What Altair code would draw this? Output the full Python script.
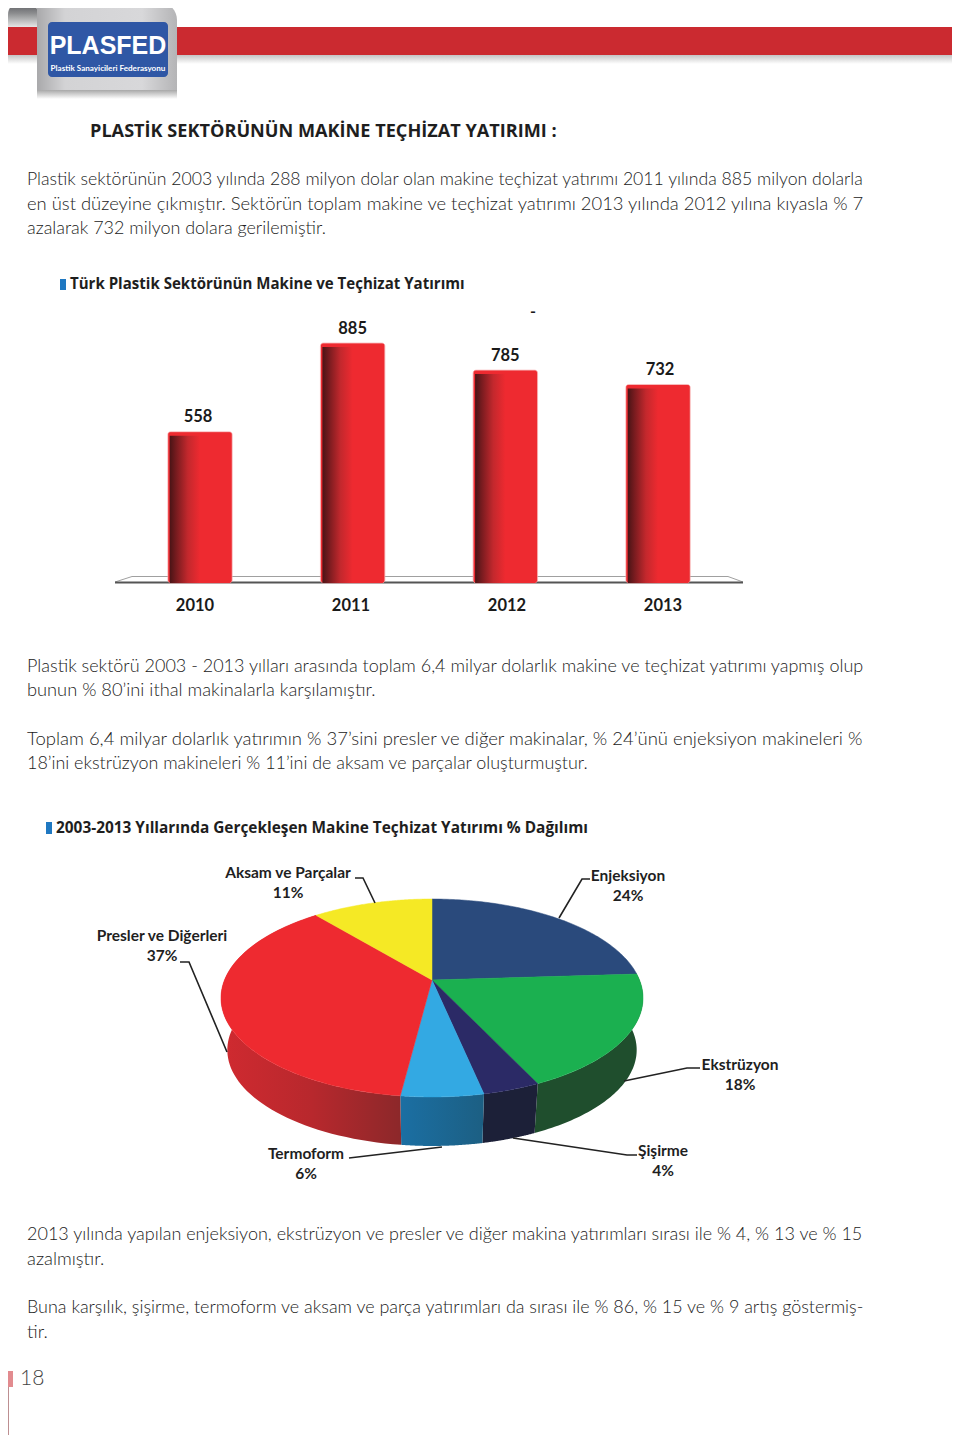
import numpy as np
import pandas as pd
import altair as alt

# ---------- values ----------
YEARS = ["2010", "2011", "2012", "2013"]
INVEST = [558, 885, 785, 732]
SLICES = ["Enjeksiyon", "Ekstrüzyon", "Şişirme", "Termoform", "Presler ve Diğerleri", "Aksam ve Parçalar"]
SHARES = [24, 18, 4, 6, 37, 11]          # printed percentages
DRAWN = [24, 19, 3.7, 5.3, 37, 11]       # slice sizes

BODY = [
    "Plastik sektörünün 2003 yılında 288 milyon dolar olan makine teçhizat yatırımı 2011 yılında 885 milyon dolarla",
    "en üst düzeyine çıkmıştır. Sektörün toplam makine ve teçhizat yatırımı 2013 yılında 2012 yılına kıyasla % 7",
    "azalarak 732 milyon dolara gerilemiştir.",
    "Plastik sektörü 2003 - 2013 yılları arasında toplam 6,4 milyar dolarlık makine ve teçhizat yatırımı yapmış olup",
    "bunun % 80’ini ithal makinalarla karşılamıştır.",
    "Toplam 6,4 milyar dolarlık yatırımın % 37’sini presler ve diğer makinalar, % 24’ünü enjeksiyon makineleri %",
    "18’ini ekstrüzyon makineleri % 11’ini de aksam ve parçalar oluşturmuştur.",
    "2013 yılında yapılan enjeksiyon, ekstrüzyon ve presler ve diğer makina yatırımları sırası ile % 4, % 13 ve % 15",
    "azalmıştır.",
    "Buna karşılık, şişirme, termoform ve aksam ve parça yatırımları da sırası ile % 86, % 15 ve % 9 artış göstermiş-",
    "tir.",
]
HEADINGS = [
    "PLASTİK SEKTÖRÜNÜN MAKİNE TEÇHİZAT YATIRIMI :",
    "Türk Plastik Sektörünün Makine ve Teçhizat Yatırımı",
    "2003-2013 Yıllarında Gerçekleşen Makine Teçhizat Yatırımı % Dağılımı",
]

# ---------- layout (page pixels) ----------
W, H = 944, 1427
BODY_Y = [180, 204, 229, 667, 691, 739, 764, 1235, 1259, 1308, 1332]
BODY_SIZE = [17.65, 18.41, 17.95, 18.0, 18.25, 18.5, 17.9, 18.0, 18.35, 17.94, 18.35]
HEAD_X = [90, 70, 56]
HEAD_Y = [132, 284, 828]
HEAD_SIZE = [18.14, 15.05, 15.4]
YEAR_X = [195, 351, 507, 663]
VALUE_DX = [-2, 0, 0, 2]
LABEL_X = [628, 740, 663, 306, 162, 288]
LABEL_Y = [876, 1065, 1151, 1154, 936, 873]

PX = alt.Scale(domain=[8, 8 + W], range=[0, W], nice=False, zero=False)
PY = alt.Scale(domain=[8, 8 + H], range=[0, H], nice=False, zero=False)
xq = alt.X("x:Q", scale=PX, axis=None)
yq = alt.Y("y:Q", scale=PY, axis=None)


def grad(stops, horizontal=True):
    st = [{"color": c, "offset": o} for o, c in stops]
    return {"gradient": "linear", "stops": st, "x1": 0, "y1": 0,
            "x2": 1 if horizontal else 0, "y2": 0 if horizontal else 1}


def rect(x, x2, y, y2, fill, **kw):
    d = pd.DataFrame({"x": [x], "x2": [x2], "y": [y], "y2": [y2]})
    return alt.Chart(d).mark_rect(fill=fill, **kw).encode(
        x=xq, x2="x2:Q", y=yq, y2="y2:Q")


def text(rows, font="Lato", weight=400, color="#222222", align="left"):
    d = pd.DataFrame(rows, columns=["t", "x", "y", "s"])
    return alt.Chart(d).mark_text(font=font, fontWeight=weight, color=color,
                                  align=align, baseline="middle").encode(
        x=xq, y=yq, text="t:N", size=alt.Size("s:Q", scale=None, legend=None))


def polyline(pts, color="#222222", width=1.6):
    d = pd.DataFrame(pts, columns=["x", "y"])
    d["i"] = range(len(d))
    return alt.Chart(d).mark_line(color=color, strokeWidth=width).encode(
        x=xq, y=yq, order="i:Q")


layers = []

# ---------- header ----------
layers += [
    rect(8, 952, 55, 64, grad([(0, "#c4c4c4"), (1, "#ffffff")], False)),
    rect(37, 177, 90, 99, grad([(0, "#a8a8a8"), (1, "#ffffff")], False)),
    rect(8, 952, 27, 55, "#cb2a30"),
    rect(8, 38, 2, 27, grad([(0, "#55565a"), (0.45, "#8b8c8e"), (1, "#e6e6e6")], False),
         cornerRadiusTopLeft=20, cornerRadiusTopRight=12),
    rect(37, 177, 2, 90, grad([(0, "#a9a9ab"), (0.2, "#d3d3d5"), (0.75, "#d8d8da"), (1, "#b4b4b6")]),
         cornerRadiusTopRight=18),
    rect(48, 168, 22, 77, "#2f57a5", cornerRadius=4),
    text([["PLASFED", 108, 46, 25]], font="Liberation Sans", weight=700, color="#ffffff", align="center"),
    text([["Plastik Sanayicileri Federasyonu", 108, 69, 8.1]], font="Lato", weight=700, color="#ffffff", align="center"),
]

# ---------- text ----------
layers.append(text([[t, 27, y, s] for t, y, s in zip(BODY, BODY_Y, BODY_SIZE)],
                    font="Lato", weight=300, color="#222222"))
layers.append(text([[t, x, y, s] for t, x, y, s in zip(HEADINGS, HEAD_X, HEAD_Y, HEAD_SIZE)],
                   font="Open Sans", weight=700, color="#1e1e1e"))
layers += [rect(60, 66, 279, 290, "#1f78c1"), rect(46, 52, 822, 834, "#1f78c1")]

# ---------- page number ----------
layers += [
    rect(8, 9, 1371, 1435, "#bd8f91"),
    rect(8, 13, 1371, 1387, "#e28b8f"),
    text([["18", 20, 1379, 21]], font="Lato", weight=300, color="#444444"),
]

# ---------- bar chart ----------
layers += [
    polyline([(115, 582), (132, 576.5), (728, 576.5), (743, 582)], "#a0a0a0", 1),
    polyline([(115, 582.5), (743, 582.5)], "#555555", 2),
]
bars = pd.DataFrame({"year": YEARS, "v": INVEST})
bx = alt.X("year:N", axis=None, sort=None,
           scale=alt.Scale(domain=YEARS, range=[123.65 - 8, 734.35 - 8], paddingInner=0.5776, paddingOuter=0.2888))
by = alt.Y("v:Q", axis=None, scale=alt.Scale(domain=[0, 885], range=[583 - 8, 343 - 8], nice=False))
layers += [
    alt.Chart(bars).mark_bar(fill="#ee2a30", stroke="#f6a3a5", strokeWidth=0.6, cornerRadius=3, size=64.5)
       .encode(x=bx, y=by),
    alt.Chart(bars).mark_bar(size=60.5, yOffset=4,
                             fill=grad([(0, "#4a1416"), (0.12, "#7c1c20"), (0.3, "#c3282d"),
                                        (0.5, "#ee2a30"), (1, "#ee2a30")]))
       .encode(x=bx, y=by, y2=alt.value(568)),
]
for year, value, dx in zip(YEARS, INVEST, VALUE_DX):
    one = pd.DataFrame({"year": [year], "v": [value]})
    layers.append(
        alt.Chart(one).mark_text(font="Lato", fontWeight=700, fontSize=16.5, color="#1a1a1a",
                                 baseline="middle", dy=-14.5, dx=dx)
        .encode(x=bx, y=by, text="v:Q"))
layers.append(text([[t, x, 606, 16.5] for t, x in zip(YEARS, YEAR_X)], weight=700, color="#1a1a1a", align="center"))
layers.append(text([["-", 533, 312, 16]], weight=700, color="#1a1a1a", align="center"))

# ---------- pie chart ----------
CX, CY, A, B, K = 432, 980, 207.5, 95.7, -0.1818


def rim(t, s=1.0, dy=0.0):
    u, v = np.sin(t), -np.cos(t)
    den = 1 + K * v
    return np.column_stack([CX + A * s * u / den, CY + dy + B * s * v / den])


def poly(pts):
    ring = [[float(a), float(b)] for a, b in pts]
    ring.append(ring[0])
    return {"type": "Feature", "properties": {}, "geometry": {"type": "Polygon", "coordinates": [ring]}}


def shape(pts, fill, stroke=None):
    kw = {"stroke": stroke, "strokeWidth": 0.5} if stroke else {"strokeWidth": 0}
    return alt.Chart(alt.InlineData(values=[poly(pts)])).mark_geoshape(filled=True, fill=fill, **kw).project(
        type="identity", scale=1, translate=[-8, -8])


edges = np.cumsum([0] + DRAWN) / sum(DRAWN) * 2 * np.pi
TOP = ["#2a4a7c", "#1bb050", "#2b2a66", "#33a9e3", "#ee2a30", "#f5e925"]
WALL = {
    1: "#1f4e2d",
    2: "#1c2038",
    3: grad([(0, "#1b6fa3"), (1, "#1c5f83")]),
    4: grad([(0, "#d02a30"), (0.5, "#b8282d"), (1, "#8c282a")]),
}
for i, fill in WALL.items():
    ts = np.linspace(edges[i], edges[i + 1], 70)
    pts = np.vstack([rim(ts), rim(ts[::-1], 0.97, 52.5)])
    layers.append(shape(pts, fill))
for i, fill in enumerate(TOP):
    ts = np.linspace(edges[i], edges[i + 1], 90)
    pts = np.vstack([[[CX, CY]], rim(ts)])
    layers.append(shape(pts, fill, fill))

for pts in [
    [(355, 878), (363, 878), (375, 903)],
    [(180, 962), (189, 962), (227, 1052)],
    [(349, 1158), (442, 1147)],
    [(590, 879), (582, 879), (559, 918)],
    [(700, 1068), (687, 1068), (624, 1081)],
    [(637, 1155), (627, 1155), (513, 1138)],
]:
    layers.append(polyline(pts))

rows = []
for n, v, x, y in zip(SLICES, SHARES, LABEL_X, LABEL_Y):
    rows.append([n, x, y, 15.5])
    rows.append([f"{v}%", x, y + 20, 15.5])
layers.append(text(rows, weight=700, color="#1f1f1f", align="center"))

chart = (
    alt.layer(*layers)
    .resolve_scale(x="independent", y="independent")
    .properties(width=W, height=H, padding=0, autosize=alt.AutoSizeParams(type="none"), background="#ffffff")
    .configure_view(stroke=None)
)
chart.save("out.html", embed_options={"renderer": "svg", "actions": False})
